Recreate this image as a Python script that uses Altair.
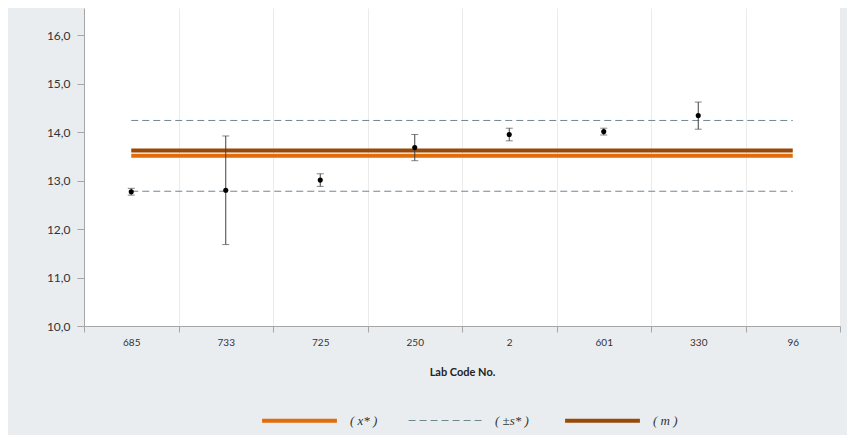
import altair as alt
import pandas as pd

# ---- data ----
labs = ["685", "733", "725", "250", "2", "601", "330", "96"]
lab_vals = ["685", "733", "725", "250", "2", "601", "330"]
means = [12.77, 12.80, 13.01, 13.68, 13.95, 14.01, 14.34]
uncert = [0.07, 1.12, 0.13, 0.27, 0.13, 0.07, 0.28]
x_star = 13.51
s_star = 0.73
m_val = 13.62
series_names = ["( x* )", "( ±s* )", "( m )"]
series_colors = ["#e36c0a", "#6f8791", "#984807"]
y_ticks = [10, 11, 12, 13, 14, 15, 16]

# ---- tables ----
pts = pd.DataFrame({
    "lab": lab_vals,
    "mean": means,
    "lo": [m - u for m, u in zip(means, uncert)],
    "hi": [m + u for m, u in zip(means, uncert)],
})

ref_defs = [
    ("xstar", series_names[0], x_star),
    ("upper", series_names[1], x_star + s_star),
    ("lower", series_names[1], x_star - s_star),
    ("m", series_names[2], m_val),
]
rows = []
for lid, sname, val in ref_defs:
    for i, lab in enumerate(labs):
        rows.append({"lab": lab, "idx": i, "value": val, "series": sname, "line": lid})
refs = pd.DataFrame(rows)

x_enc = alt.X(
    "lab:N",
    scale=alt.Scale(domain=labs, paddingInner=0, paddingOuter=0),
    sort=labs,
    axis=alt.Axis(
        title="Lab Code No.", labelAngle=0, tickBand="extent", grid=True,
        gridColor="#ebebeb", domainColor="#a6a6a6", tickColor="#a6a6a6",
        tickSize=6, labelFont="Lato", labelFontSize=10, labelColor="#333333",
        labelPadding=5, titleFont="Lato", titleFontSize=11, titleFontWeight="bold",
        titleColor="#222222", titlePadding=19,
    ),
)
y_scale = alt.Scale(domain=[10, 16.56], nice=False, zero=False)
y_axis = alt.Axis(
    values=y_ticks, labelExpr="replace(format(datum.value, '.1f'), '.', ',')",
    grid=False, title=None, tickSize=7, labelPadding=7,
    domainColor="#a6a6a6", tickColor="#a6a6a6", labelFont="Lato",
    labelFontSize=12, labelColor="#333333",
)

leg = alt.Legend(
    orient="none", legendX=176, legendY=373, direction="horizontal", title=None,
    symbolType="stroke", symbolSize=5600, labelFont="Liberation Serif",
    labelFontStyle="italic", labelFontSize=13, labelColor="#333333",
    labelOffset=11, columnPadding=28, padding=0,
)

lines = alt.Chart(refs).mark_line().encode(
    x=x_enc,
    y=alt.Y("value:Q", scale=y_scale, axis=y_axis),
    color=alt.Color("series:N", scale=alt.Scale(domain=series_names, range=series_colors), legend=leg),
    strokeDash=alt.StrokeDash("series:N", scale=alt.Scale(domain=series_names, range=[[1, 0], [7, 4], [1, 0]]), legend=leg),
    strokeWidth=alt.StrokeWidth("series:N", scale=alt.Scale(type="ordinal", domain=series_names, range=[4, 1, 4]), legend=leg),
    detail="line:N",
    order=alt.Order("idx:Q"),
)

bars = alt.Chart(pts).mark_rule(color="#404040", strokeWidth=1).encode(
    x=alt.X("lab:N"),
    y=alt.Y("lo:Q", scale=y_scale),
    y2="hi:Q",
)
caps_lo = alt.Chart(pts).mark_tick(color="#505050", size=7, thickness=1, orient="horizontal").encode(
    x=alt.X("lab:N"), y=alt.Y("lo:Q", scale=y_scale)
)
caps_hi = alt.Chart(pts).mark_tick(color="#505050", size=7, thickness=1, orient="horizontal").encode(
    x=alt.X("lab:N"), y=alt.Y("hi:Q", scale=y_scale)
)
dots = alt.Chart(pts).mark_circle(color="black", size=26, opacity=1).encode(
    x=alt.X("lab:N"), y=alt.Y("mean:Q", scale=y_scale)
)

chart = alt.layer(lines, bars, caps_lo, caps_hi, dots).properties(
    width=756, height=318,
    autosize=alt.AutoSizeParams(type="none"),
    padding={"left": 76, "top": 0, "right": 7, "bottom": 109},
    background="#eaedf0",
).configure_view(fill="white", strokeWidth=0)

chart.save("out.html", embed_options={"renderer": "svg", "actions": False})
